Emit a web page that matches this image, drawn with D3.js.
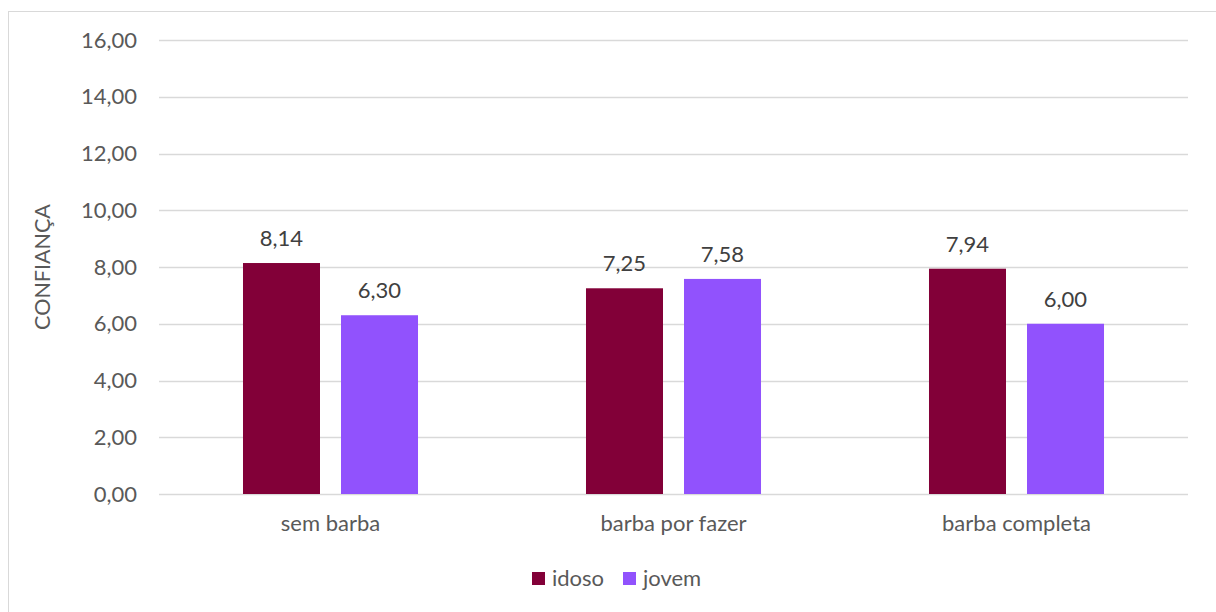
<!DOCTYPE html>
<html>
<head>
<meta charset="utf-8">
<script src="https://cdn.jsdelivr.net/npm/d3@7"></script>
<style>
  html, body { margin: 0; padding: 0; background: #fff; }
  svg { display: block; font-family: Lato, "Open Sans", sans-serif; }
</style>
</head>
<body>
<svg id="chart" width="1216" height="612"></svg>
<script>
// Mean confidence ratings per beard condition, by age group
const categories = ["sem barba", "barba por fazer", "barba completa"];
const seriesNames = ["idoso", "jovem"];
const idoso = [8.14, 7.25, 7.94];
const jovem = [6.30, 7.58, 6.00];
const yTicks = [0, 2, 4, 6, 8, 10, 12, 14, 16];
const colors = ["#820038", "#9152fd"];

const svg = d3.select("#chart");
const textColor = "#595959";
const fontSize = "22px";
const fmt = v => d3.format(".2f")(v).replace(".", ",");

// Outer chart border
svg.append("rect")
  .attr("x", 8.5).attr("y", 11.5)
  .attr("width", 1216).attr("height", 620)
  .attr("fill", "none").attr("stroke", "#d9d9d9").attr("stroke-width", 1);

const plot = { left: 159, right: 1188, top: 40, bottom: 494 };

const x0 = d3.scaleBand().domain(categories).range([plot.left, plot.right]).paddingInner(0).paddingOuter(0);
const x1 = d3.scaleBand().domain(seriesNames).range([0, x0.bandwidth()]).paddingInner(0.2143).paddingOuter(0.857);
const y = d3.scaleLinear().domain([0, 16]).range([plot.bottom, plot.top]);

// Gridlines
svg.append("g").selectAll("line").data(yTicks).join("line")
  .attr("x1", plot.left).attr("x2", plot.right)
  .attr("y1", d => Math.round(y(d)) + 0.5).attr("y2", d => Math.round(y(d)) + 0.5)
  .attr("stroke", "#d9d9d9").attr("stroke-width", 1.3);

// Y axis labels
const yAxis = d3.axisLeft(y).tickValues(yTicks).tickFormat(fmt).tickSize(0).tickPadding(22);
const gy = svg.append("g").attr("transform", `translate(${plot.left},0)`).call(yAxis);
gy.select(".domain").remove();
gy.selectAll("text").attr("fill", textColor).style("font-size", fontSize).style("font-family", "Lato, sans-serif");

// X axis labels
const xAxis = d3.axisBottom(x0).tickSize(0).tickPadding(21);
const gx = svg.append("g").attr("transform", `translate(0,${plot.bottom})`).call(xAxis);
gx.select(".domain").remove();
gx.selectAll("text").attr("fill", textColor).style("font-size", fontSize).style("font-family", "Lato, sans-serif");

// Bars
const rows = categories.map((c, i) => ({ cat: c, values: [idoso[i], jovem[i]] }));
const groups = svg.append("g").selectAll("g").data(rows).join("g")
  .attr("transform", d => `translate(${x0(d.cat)},0)`);

const items = d => d.values.map((v, j) => ({ name: seriesNames[j], v, j }));

groups.selectAll("rect").data(items).join("rect")
  .attr("x", d => x1(d.name))
  .attr("width", x1.bandwidth())
  .attr("y", d => y(d.v))
  .attr("height", d => y(0) - y(d.v))
  .attr("fill", d => colors[d.j]);

groups.selectAll("text").data(items).join("text")
  .attr("x", d => x1(d.name) + x1.bandwidth() / 2)
  .attr("y", d => y(d.v) - 17)
  .attr("text-anchor", "middle")
  .attr("fill", "#404040")
  .style("font-size", fontSize)
  .text(d => fmt(d.v));

// Y axis title
svg.append("text")
  .attr("transform", `translate(50,${(plot.top + plot.bottom) / 2}) rotate(-90)`)
  .attr("text-anchor", "middle")
  .attr("fill", textColor)
  .style("font-size", "21.5px")
  .text("CONFIANÇA");

// Legend
const legend = svg.append("g");
const legendItems = [{ name: "idoso", x: 532 }, { name: "jovem", x: 623 }];
legendItems.forEach((it, i) => {
  legend.append("rect").attr("x", it.x).attr("y", 572).attr("width", 13).attr("height", 13).attr("fill", colors[i]);
  legend.append("text").attr("x", it.x + 20).attr("y", 586)
    .attr("fill", textColor).style("font-size", fontSize).text(it.name);
});
</script>
</body>
</html>
